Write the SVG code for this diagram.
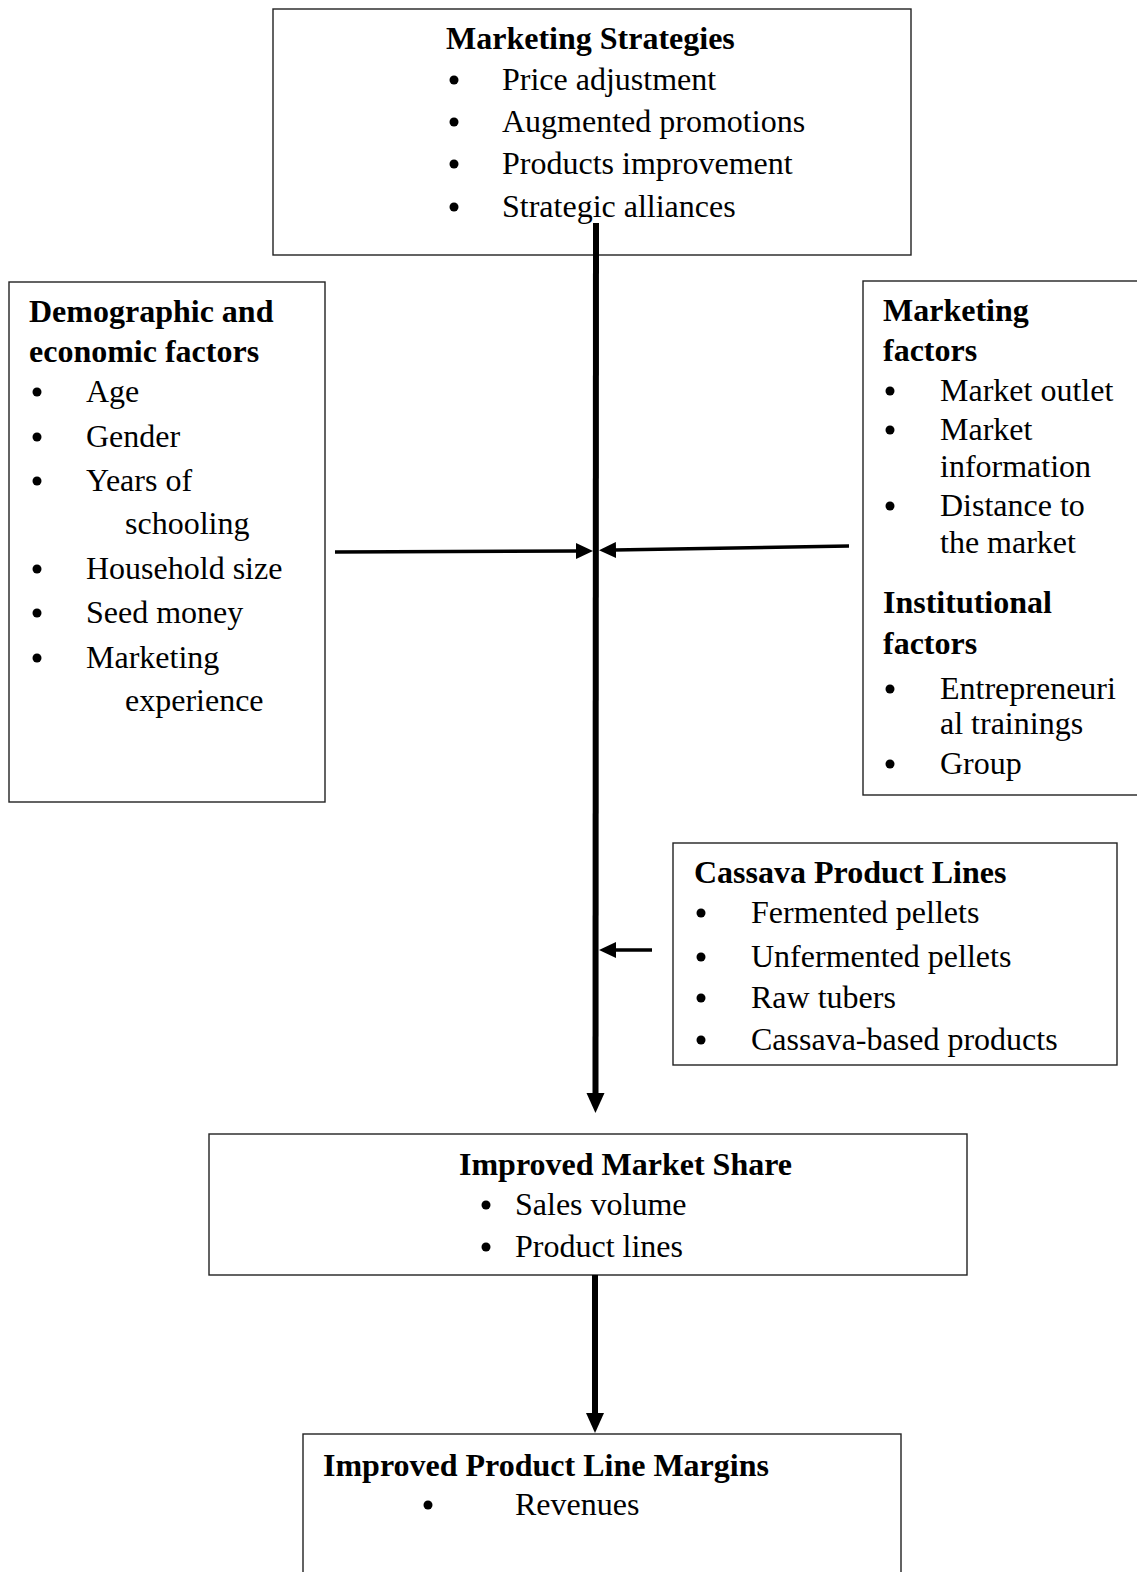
<svg xmlns="http://www.w3.org/2000/svg" width="1137" height="1572" viewBox="0 0 1137 1572">
<style>
.box{fill:#fff;stroke:#222;stroke-width:1.4}
text{font-family:"Liberation Serif","Times New Roman",serif;font-size:32px;fill:#000}
.h{font-weight:bold}
.b{fill:#000}
.main{stroke:#000;stroke-width:6;fill:none}
.side{stroke:#000;stroke-width:3.5;fill:none}
</style>
<defs>
<marker id="ah" markerUnits="userSpaceOnUse" markerWidth="20" markerHeight="20" refX="2" refY="9" orient="auto" viewBox="0 0 20 18">
<path d="M0,0 L20,9 L0,18 z" fill="#000"/>
</marker>
<marker id="as" markerUnits="userSpaceOnUse" markerWidth="17" markerHeight="16" refX="2" refY="8" orient="auto" viewBox="0 0 17 16">
<path d="M0,0 L17,8 L0,16 z" fill="#000"/>
</marker>
</defs>

<g id="strategies">
<rect class="box" x="273" y="9" width="638" height="246"/>
<text class="h" x="446" y="49">Marketing Strategies</text>
<circle class="b" cx="454" cy="80" r="4.5"/><text x="502" y="90">Price adjustment</text>
<circle class="b" cx="454" cy="122" r="4.5"/><text x="502" y="132">Augmented promotions</text>
<circle class="b" cx="454" cy="164" r="4.5"/><text x="502" y="174">Products improvement</text>
<circle class="b" cx="454" cy="207" r="4.5"/><text x="502" y="217">Strategic alliances</text>
</g>

<g id="demographic">
<rect class="box" x="9" y="282" width="316" height="520"/>
<text class="h" x="29" y="322">Demographic and</text>
<text class="h" x="29" y="362">economic factors</text>
<circle class="b" cx="37" cy="392" r="4.5"/><text x="86" y="402">Age</text>
<circle class="b" cx="37" cy="437" r="4.5"/><text x="86" y="447">Gender</text>
<circle class="b" cx="37" cy="481" r="4.5"/><text x="86" y="491">Years of</text>
<text x="125" y="534">schooling</text>
<circle class="b" cx="37" cy="569" r="4.5"/><text x="86" y="579">Household size</text>
<circle class="b" cx="37" cy="613" r="4.5"/><text x="86" y="623">Seed money</text>
<circle class="b" cx="37" cy="658" r="4.5"/><text x="86" y="668">Marketing</text>
<text x="125" y="711">experience</text>
</g>

<g id="marketing-factors">
<rect class="box" x="863" y="281" width="280" height="514"/>
<text class="h" x="883" y="321">Marketing</text>
<text class="h" x="883" y="361">factors</text>
<circle class="b" cx="890" cy="391" r="4.5"/><text x="940" y="401">Market outlet</text>
<circle class="b" cx="890" cy="430" r="4.5"/><text x="940" y="440">Market</text>
<text x="940" y="477">information</text>
<circle class="b" cx="890" cy="506" r="4.5"/><text x="940" y="516">Distance to</text>
<text x="940" y="553">the market</text>
<text class="h" x="883" y="613">Institutional</text>
<text class="h" x="883" y="654">factors</text>
<circle class="b" cx="890" cy="689" r="4.5"/><text x="940" y="699">Entrepreneuri</text>
<text x="940" y="734">al trainings</text>
<circle class="b" cx="890" cy="764" r="4.5"/><text x="940" y="774">Group</text>
</g>

<g id="cassava">
<rect class="box" x="673" y="843" width="444" height="222"/>
<text class="h" x="694" y="883">Cassava Product Lines</text>
<circle class="b" cx="701" cy="913" r="4.5"/><text x="751" y="923">Fermented pellets</text>
<circle class="b" cx="701" cy="957" r="4.5"/><text x="751" y="967">Unfermented pellets</text>
<circle class="b" cx="701" cy="998" r="4.5"/><text x="751" y="1008">Raw tubers</text>
<circle class="b" cx="701" cy="1040" r="4.5"/><text x="751" y="1050">Cassava-based products</text>
</g>

<g id="market-share">
<rect class="box" x="209" y="1134" width="758" height="141"/>
<text class="h" x="459" y="1175">Improved Market Share</text>
<circle class="b" cx="486" cy="1205" r="4.5"/><text x="515" y="1215">Sales volume</text>
<circle class="b" cx="486" cy="1247" r="4.5"/><text x="515" y="1257">Product lines</text>
</g>

<g id="margins">
<rect class="box" x="303" y="1434" width="598" height="150"/>
<text class="h" x="323" y="1476">Improved Product Line Margins</text>
<circle class="b" cx="428" cy="1505" r="4.5"/><text x="515" y="1515">Revenues</text>
</g>

<g id="connectors">
<line class="main" x1="596" y1="223" x2="595.5" y2="1095" marker-end="url(#ah)"/>
<line class="side" x1="335" y1="552" x2="578" y2="551" marker-end="url(#as)"/>
<line class="side" x1="849" y1="546" x2="614" y2="550" marker-end="url(#as)"/>
<line class="side" x1="652" y1="950" x2="614" y2="950" marker-end="url(#as)"/>
<line class="main" x1="595" y1="1275" x2="595" y2="1415" marker-end="url(#ah)"/>
</g>
</svg>
